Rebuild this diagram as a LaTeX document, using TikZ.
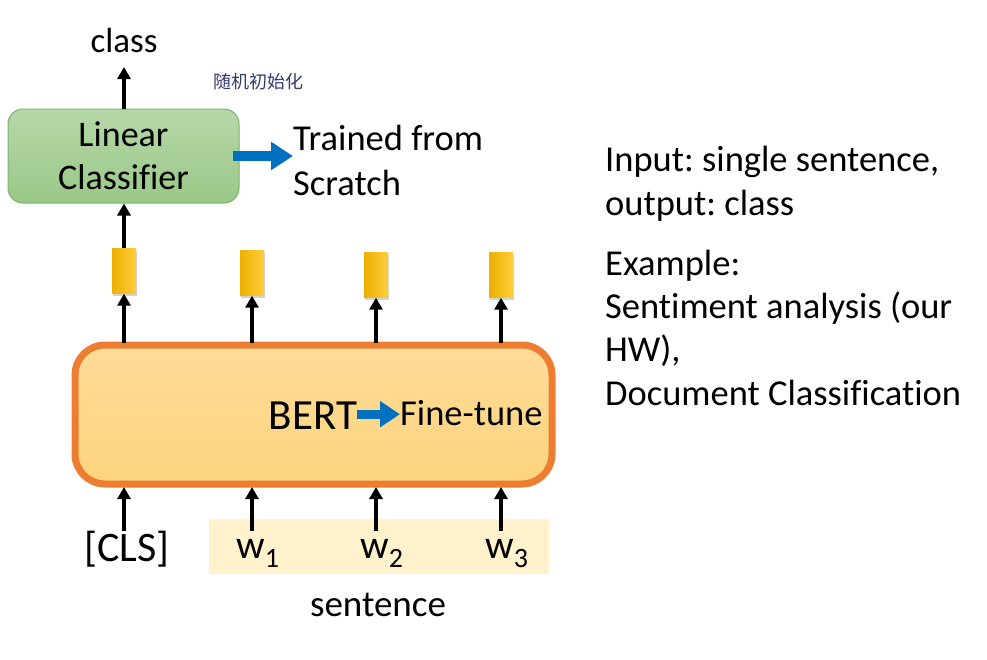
\documentclass[tikz,border=0pt]{standalone}
\usepackage{fontspec}
\setmainfont[Ligatures={NoCommon}]{Carlito}
\newfontfamily\cjk{Noto Sans CJK SC}
\usetikzlibrary{arrows.meta,shadows}
\definecolor{bluearr}{RGB}{0,112,192}
\definecolor{orangeb}{RGB}{237,125,49}
\definecolor{bertfillT}{RGB}{254,220,152}
\definecolor{bertfillB}{RGB}{253,212,125}
\definecolor{greenT}{RGB}{182,216,168}
\definecolor{greenB}{RGB}{154,200,136}
\definecolor{greenD}{RGB}{126,178,106}
\definecolor{sentbg}{RGB}{255,242,204}
\definecolor{tokL}{RGB}{236,176,0}
\definecolor{tokR}{RGB}{255,206,60}
\definecolor{cjkcol}{RGB}{50,60,110}
\tikzset{
  upar/.style={line width=3.6pt,-{Triangle[width=13pt,length=12pt]}},
  bluear/.style={line width=10pt,bluearr,-{Triangle[width=27pt,length=22pt]}},
  tok/.style={minimum width=24pt,minimum height=45pt,inner sep=0pt,left color=tokL,right color=tokR,
    drop shadow={shadow xshift=1pt,shadow yshift=-2pt,opacity=0.35}},
  rline/.style={inner sep=0pt,anchor=base west,font=\fontsize{36.5}{40}\selectfont},
}
\frenchspacing
\begin{document}
\begin{tikzpicture}[x=1pt,y=-1pt]
\useasboundingbox (0,0) rectangle (987,659);
% Linear classifier
\node[draw=greenD,line width=1pt,rounded corners=15pt,top color=greenT,bottom color=greenB,
  minimum width=231pt,minimum height=94pt,align=center,font=\fontsize{36}{43}\selectfont] (lc) at (123.5,156) {Linear\\Classifier};
\node[inner sep=0pt,anchor=base,font=\fontsize{35}{40}\selectfont] (cls) at (124,52) {class};
\coordinate (clstop) at (124,67);
\draw[upar] (lc.north -| cls) -- (clstop);
\node[inner sep=0pt,font=\cjk\fontsize{18}{20}\selectfont,text=cjkcol] (cn) at (258,82) {随机初始化};
\node[inner sep=0pt,align=left,anchor=north west,font=\fontsize{36.5}{45}\selectfont] (scr) at (293,125) {Trained from\\Scratch};
\draw[bluear] ([xshift=-7pt]lc.east) -- (lc.east -| scr.west);
% BERT box
\node[draw=orangeb,line width=7pt,rounded corners=30pt,top color=bertfillT,bottom color=bertfillB,
  minimum width=477pt,minimum height=139pt] (bert) at (313.5,414.5) {};
\node[inner sep=0pt,anchor=base,font=\fontsize{43}{46}\selectfont] (bt) at (313,429) {BERT};
\node[inner sep=0pt,anchor=base west,font=\fontsize{36.5}{40}\selectfont] (ft) at (400,425) {Fine-tune};
\draw[line width=9pt,bluearr,-{Triangle[width=25pt,length=20pt]}] ([yshift=1pt]bt.east) -- ([yshift=1pt]bt.east -| ft.west);
% tokens
\foreach \i/\x/\y in {1/124/271,2/252/273,3/376/275,4/501/275}{
  \node[tok] (t\i) at (\x,\y) {};
  \draw[upar] (\x,343) -- (t\i.south);
}
\draw[upar] (t1.north) -- (lc.south -| t1);
% sentence background
\fill[sentbg] (209,519) rectangle (549,574);
\node[inner sep=0pt,anchor=base,font=\fontsize{42}{44}\selectfont] (c0) at (127,561) {[CLS]};
\node[inner sep=0pt,anchor=base,font=\fontsize{40}{44}\selectfont] (w1) at (258,558) {w\textsubscript{1}};
\node[inner sep=0pt,anchor=base,font=\fontsize{40}{44}\selectfont] (w2) at (382,558) {w\textsubscript{2}};
\node[inner sep=0pt,anchor=base,font=\fontsize{40}{44}\selectfont] (w3) at (507,558) {w\textsubscript{3}};
\foreach \x in {124,252,376,501}{
  \draw[upar] (\x,531) -- (\x,487);
}
\node[inner sep=0pt,anchor=base,font=\fontsize{37}{40}\selectfont] (sent) at (378,616) {sentence};
% right text
\node[rline] (r1) at (605,171) {Input: single sentence,};
\node[rline] (r2) at (605,215) {output: class};
\node[rline] (r3) at (605,275) {Example:};
\node[rline] (r4) at (605,318) {Sentiment analysis (our};
\node[rline] (r5) at (605,361) {HW),};
\node[rline] (r6) at (605,405) {Document Classification};
\end{tikzpicture}
\end{document}
